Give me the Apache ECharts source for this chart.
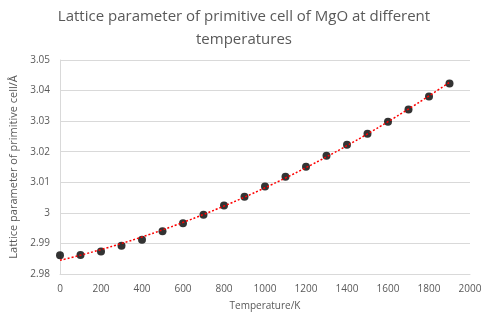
<!DOCTYPE html>
<html><head><meta charset="utf-8">
<script src="https://cdn.jsdelivr.net/npm/echarts@6/dist/echarts.min.js"></script>
<style>html,body{margin:0;padding:0;background:#fff}#c{width:488px;height:325px}</style>
</head><body><div id="c"></div>
<script>
const temperatures = [0,100,200,300,400,500,600,700,800,900,1000,1100,1200,1300,1400,1500,1600,1700,1800,1900];
const latticeA = [2.9861,2.9862,2.9874,2.9892,2.9912,2.9940,2.9966,2.9994,3.0024,3.0053,3.0086,3.0118,3.0151,3.0187,3.0223,3.0259,3.0298,3.0338,3.0381,3.0423];
const xTicks = [0,200,400,600,800,1000,1200,1400,1600,1800,2000];
const yTicks = [2.98,2.99,3.00,3.01,3.02,3.03,3.04,3.05];

// quadratic least-squares trendline (as in the spreadsheet's polynomial trendline)
function quadFit(xs, ys){
  let S=[0,0,0,0,0], T=[0,0,0];
  for(let i=0;i<xs.length;i++){
    const x=xs[i], y=ys[i];
    let p=1;
    for(let k=0;k<5;k++){S[k]+=p; if(k<3) T[k]+=p*y; p*=x;}
  }
  const A=[[S[0],S[1],S[2],T[0]],[S[1],S[2],S[3],T[1]],[S[2],S[3],S[4],T[2]]];
  for(let i=0;i<3;i++){
    for(let j=i+1;j<3;j++){const f=A[j][i]/A[i][i]; for(let k=i;k<4;k++) A[j][k]-=f*A[i][k];}
  }
  const c=[0,0,0];
  for(let i=2;i>=0;i--){let s=A[i][3]; for(let k=i+1;k<3;k++) s-=A[i][k]*c[k]; c[i]=s/A[i][i];}
  return c;
}
const coef = quadFit(temperatures, latticeA);
const trend = temperatures.map(t => [t, coef[0]+coef[1]*t+coef[2]*t*t]);

const font = 'Open Sans';
const chart = echarts.init(document.getElementById('c'));
chart.setOption({
  animation:false,
  title:{text:'Lattice parameter of primitive cell of MgO at different\ntemperatures', left:'center', top:0,
    textStyle:{fontFamily:font, fontSize:15, fontWeight:'normal', color:'#595959', lineHeight:23}},
  grid:{left:60, right:18, top:60, bottom:51},
  xAxis:{type:'value', min:xTicks[0], max:xTicks[xTicks.length-1], interval:200,
    name:'Temperature/K', nameLocation:'middle', nameGap:27,
    nameTextStyle:{fontFamily:font, fontSize:10, color:'#595959'},
    axisLine:{show:true, lineStyle:{color:'#d9d9d9'}}, axisTick:{show:false},
    axisLabel:{fontFamily:font, fontSize:10, color:'#595959', margin:10, formatter:v=>String(v)},
    splitLine:{show:false}},
  yAxis:{type:'value', min:yTicks[0], max:yTicks[yTicks.length-1], interval:0.01,
    name:'Lattice parameter of primitive cell/Å', nameLocation:'middle', nameGap:28,
    nameTextStyle:{fontFamily:font, fontSize:11, color:'#595959'},
    axisLine:{show:true, lineStyle:{color:'#d9d9d9'}}, axisTick:{show:false},
    axisLabel:{fontFamily:font, fontSize:10, color:'#595959', margin:10},
    splitLine:{show:true, lineStyle:{color:'#d9d9d9'}}},
  series:[
    {type:'line', data:trend, smooth:true, showSymbol:false, symbol:'none', z:3,
     lineStyle:{color:'#ff0000', width:1.5, type:[2,2]}},
    {type:'scatter', data:temperatures.map((t,i)=>[t,latticeA[i]]), symbolSize:8, z:2,
     itemStyle:{color:'#000000'}}
  ]
});
</script></body></html>
